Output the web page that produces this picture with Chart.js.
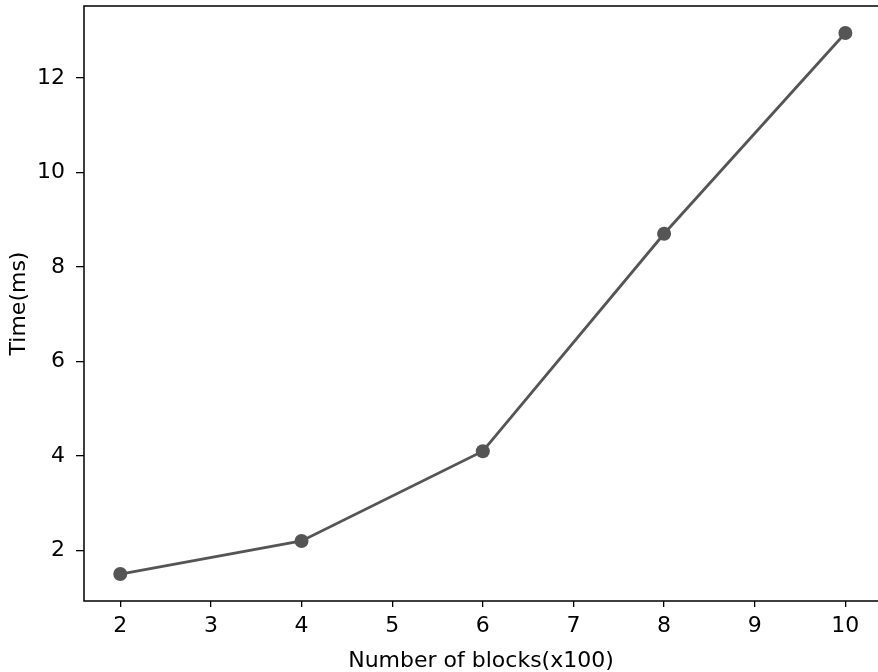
<!DOCTYPE html>
<html>
<head>
<meta charset="utf-8">
<script src="https://cdn.jsdelivr.net/npm/chart.js@4/dist/chart.umd.min.js"></script>
<style>
html,body{margin:0;padding:0;background:#fff;}
#wrap{width:878px;height:672px;position:relative;}
</style>
</head>
<body>
<div id="wrap"><canvas id="c" width="878" height="672"></canvas></div>
<script>
const blocks = [2, 4, 6, 8, 10];
const timeMs = [1.5, 2.2, 4.1, 8.7, 12.95];
const xTicks = [2, 3, 4, 5, 6, 7, 8, 9, 10];
const yTicks = [2, 4, 6, 8, 10, 12];
const xTitle = 'Number of blocks(x100)';
const yTitle = 'Time(ms)';

const FONT = 'DejaVu Sans';

const framePlugin = {
  id: 'frame',
  afterDraw(chart) {
    const {ctx, chartArea: a} = chart;
    ctx.save();
    ctx.strokeStyle = '#000';
    ctx.lineWidth = 1.5;
    ctx.beginPath();
    ctx.moveTo(a.right + 4, a.top);
    ctx.lineTo(a.left, a.top);
    ctx.lineTo(a.left, a.bottom);
    ctx.lineTo(a.right + 4, a.bottom);
    ctx.stroke();
    ctx.restore();
  }
};

new Chart(document.getElementById('c'), {
  type: 'line',
  data: {
    datasets: [{
      data: blocks.map((b, i) => ({x: b, y: timeMs[i]})),
      borderColor: '#555555',
      backgroundColor: '#555555',
      borderWidth: 2.8,
      pointRadius: 7,
      pointHoverRadius: 7,
      pointBorderWidth: 0,
      pointBackgroundColor: '#555555',
      tension: 0
    }]
  },
  options: {
    responsive: false,
    animation: false,
    events: [],
    layout: {autoPadding: false, padding: {top: 6, right: 0, left: 0, bottom: 0}},
    plugins: {legend: {display: false}, tooltip: {enabled: false}},
    scales: {
      x: {
        type: 'linear',
        min: 1.6,
        max: 10.36,
        afterBuildTicks: s => { s.ticks = xTicks.map(v => ({value: v})); },
        afterFit: s => { s.height = 71; s.paddingLeft = 0; s.paddingRight = 0; },
        border: {display: false},
        grid: {drawOnChartArea: false, drawTicks: true, tickLength: 6, color: '#000', lineWidth: 1.3},
        ticks: {color: '#000', font: {family: FONT, size: 22}, padding: 6, maxRotation: 0, autoSkip: false},
        title: {display: true, text: xTitle, color: '#000', font: {family: FONT, size: 22}, padding: {top: 0, bottom: -2}}
      },
      y: {
        type: 'linear',
        min: 0.93,
        max: 13.52,
        afterBuildTicks: s => { s.ticks = yTicks.map(v => ({value: v})); },
        afterFit: s => { s.width = 84; s.paddingTop = 0; s.paddingBottom = 0; },
        border: {display: false},
        grid: {drawOnChartArea: false, drawTicks: true, tickLength: 8, color: '#000', lineWidth: 1.3},
        ticks: {color: '#000', font: {family: FONT, size: 22}, padding: 11, autoSkip: false},
        title: {display: true, text: yTitle, color: '#000', font: {family: FONT, size: 22}, padding: {top: 6, bottom: 0}}
      }
    }
  },
  plugins: [framePlugin]
});
</script>
</body>
</html>
